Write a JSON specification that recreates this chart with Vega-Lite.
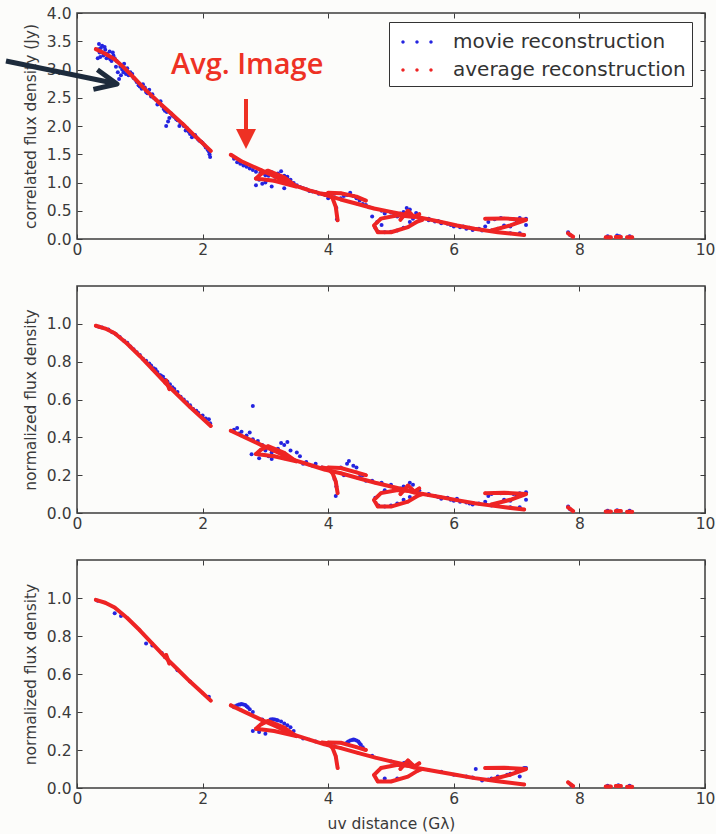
{
  "$schema": "https://vega.github.io/schema/vega-lite/v6.json",
  "background": "#fcfcfa",
  "padding": {"left": 2, "top": 5, "right": 0, "bottom": 2},
  "spacing": 25,
  "config": {
    "font": "DejaVu Sans",
    "view": {"stroke": "#3c3c3c", "strokeWidth": 1.5},
    "axis": {
      "grid": false,
      "domain": false,
      "labelFlush": false,
      "labelOverlap": false,
      "labelFont": "DejaVu Sans",
      "labelFontSize": 15.5,
      "labelColor": "#3a3a3a",
      "titleFont": "DejaVu Sans",
      "titleFontSize": 15.5,
      "titleFontWeight": "normal",
      "titleColor": "#3a3a3a",
      "tickColor": "#3c3c3c",
      "tickSize": -5,
      "tickWidth": 1
    },
    "axisX": {"labelPadding": 8, "titlePadding": 10},
    "axisY": {"labelPadding": 11, "titlePadding": 8}
  },
  "datasets": {
    "movie_top": [
      {"x":0.33,"y":3.2},{"x":0.35,"y":3.45},{"x":0.36,"y":3.3},{"x":0.38,"y":3.38},{"x":0.4,"y":3.42},{"x":0.42,"y":3.25},{"x":0.45,"y":3.35},{"x":0.48,"y":3.28},{"x":0.5,"y":3.22},{"x":0.52,"y":3.32},{"x":0.55,"y":3.15},{"x":0.58,"y":3.25},{"x":0.6,"y":3.2},{"x":0.62,"y":3.05},{"x":0.65,"y":2.95},{"x":0.67,"y":2.83},{"x":0.7,"y":2.9},{"x":0.72,"y":3.0},{"x":0.75,"y":3.1},{"x":0.78,"y":2.92},{"x":0.8,"y":3.02},{"x":0.85,"y":2.95},{"x":0.9,"y":2.85},{"x":0.95,"y":2.78},{"x":1.0,"y":2.7},{"x":1.05,"y":2.74},{"x":1.1,"y":2.6},{"x":1.15,"y":2.64},{"x":1.2,"y":2.56},{"x":1.25,"y":2.47},{"x":1.3,"y":2.4},{"x":1.35,"y":2.36},{"x":1.4,"y":2.27},{"x":1.42,"y":2.0},{"x":1.45,"y":2.08},{"x":1.5,"y":2.22},{"x":1.55,"y":2.16},{"x":1.6,"y":2.1},{"x":1.65,"y":2.05},{"x":1.7,"y":2.0},{"x":1.75,"y":1.96},{"x":1.8,"y":1.86},{"x":1.85,"y":1.84},{"x":1.9,"y":1.8},{"x":1.95,"y":1.74},{"x":2.0,"y":1.7},{"x":2.05,"y":1.62},{"x":2.1,"y":1.55},{"x":2.12,"y":1.45},
      {"x":0.34,"y":3.36},{"x":0.37,"y":3.22},{"x":0.41,"y":3.3},{"x":0.44,"y":3.4},{"x":0.47,"y":3.2},{"x":0.53,"y":3.18},{"x":0.57,"y":3.3},{"x":0.63,"y":3.15},{"x":0.69,"y":3.05},{"x":0.74,"y":2.95},{"x":0.82,"y":2.9},{"x":0.88,"y":2.92},{"x":0.93,"y":2.82},{"x":0.98,"y":2.72},{"x":1.03,"y":2.66},{"x":1.08,"y":2.68},{"x":1.12,"y":2.58},{"x":1.18,"y":2.52},{"x":1.22,"y":2.5},{"x":1.28,"y":2.38},{"x":1.33,"y":2.44},{"x":1.38,"y":2.3},{"x":1.43,"y":2.25},{"x":1.47,"y":2.14},{"x":1.52,"y":2.18},{"x":1.58,"y":2.12},{"x":1.63,"y":2.0},{"x":1.68,"y":2.04},{"x":1.73,"y":1.92},{"x":1.78,"y":1.9},{"x":1.83,"y":1.8},{"x":1.88,"y":1.84},{"x":1.93,"y":1.76},{"x":1.98,"y":1.72},{"x":2.03,"y":1.66},{"x":2.08,"y":1.58},{"x":2.11,"y":1.5},
      {"x":2.5,"y":1.42},{"x":2.55,"y":1.36},{"x":2.65,"y":1.3},{"x":2.75,"y":1.25},{"x":2.85,"y":1.19},{"x":2.9,"y":1.05},{"x":2.95,"y":0.98},{"x":3.0,"y":1.0},{"x":3.05,"y":1.12},{"x":3.1,"y":1.18},{"x":3.2,"y":1.16},{"x":3.25,"y":1.2},{"x":3.3,"y":1.12},{"x":3.35,"y":1.1},{"x":3.4,"y":1.05},{"x":3.45,"y":0.99},{"x":3.5,"y":0.95},{"x":2.85,"y":0.95},{"x":3.1,"y":0.93},{"x":3.3,"y":0.9},{"x":3.6,"y":0.9},{"x":3.7,"y":0.85},{"x":3.8,"y":0.83},{"x":3.9,"y":0.8},{"x":4.0,"y":0.72},{"x":4.05,"y":0.76},{"x":4.1,"y":0.8},{"x":4.13,"y":0.55},{"x":4.14,"y":0.35},{"x":4.2,"y":0.72},{"x":4.3,"y":0.78},{"x":4.35,"y":0.82},{"x":4.4,"y":0.76},{"x":4.5,"y":0.68},{"x":4.55,"y":0.62},{"x":4.6,"y":0.6},
      {"x":2.6,"y":1.33},{"x":2.7,"y":1.28},{"x":2.8,"y":1.22},{"x":2.92,"y":1.17},{"x":3.0,"y":1.13},{"x":3.15,"y":1.1},{"x":3.4,"y":0.98},{"x":3.55,"y":0.92},{"x":3.65,"y":0.88},{"x":3.75,"y":0.84},{"x":3.85,"y":0.8},{"x":3.95,"y":0.78},{"x":4.25,"y":0.76},{"x":4.45,"y":0.72},{"x":4.65,"y":0.56},{"x":4.85,"y":0.5},{"x":5.0,"y":0.47},{"x":5.15,"y":0.45},
      {"x":4.7,"y":0.4},{"x":4.75,"y":0.2},{"x":4.8,"y":0.13},{"x":4.9,"y":0.12},{"x":5.0,"y":0.13},{"x":5.1,"y":0.15},{"x":5.2,"y":0.2},{"x":5.3,"y":0.3},{"x":4.9,"y":0.45},{"x":5.05,"y":0.42},{"x":5.2,"y":0.48},{"x":5.25,"y":0.55},{"x":5.3,"y":0.52},{"x":5.4,"y":0.46},{"x":5.5,"y":0.36},{"x":4.85,"y":0.25},{"x":4.78,"y":0.3},{"x":5.1,"y":0.4},{"x":5.35,"y":0.36},
      {"x":5.6,"y":0.33},{"x":5.7,"y":0.31},{"x":5.8,"y":0.28},{"x":5.9,"y":0.27},{"x":6.0,"y":0.22},{"x":6.1,"y":0.21},{"x":6.2,"y":0.18},{"x":6.3,"y":0.16},{"x":6.4,"y":0.18},{"x":6.5,"y":0.22},{"x":6.55,"y":0.3},{"x":6.6,"y":0.15},{"x":6.7,"y":0.18},{"x":6.8,"y":0.24},{"x":6.9,"y":0.22},{"x":7.0,"y":0.3},{"x":7.1,"y":0.33},{"x":7.15,"y":0.36},{"x":7.15,"y":0.25},{"x":7.05,"y":0.1},{"x":6.9,"y":0.1},
      {"x":5.6,"y":0.36},{"x":5.75,"y":0.32},{"x":5.95,"y":0.25},{"x":6.15,"y":0.22},{"x":6.25,"y":0.2},{"x":6.45,"y":0.15},{"x":6.65,"y":0.35},{"x":6.75,"y":0.37},{"x":6.95,"y":0.35},{"x":7.05,"y":0.37},
      {"x":7.82,"y":0.12},{"x":7.85,"y":0.07},{"x":8.45,"y":0.05},{"x":8.6,"y":0.06},{"x":8.64,"y":0.05},{"x":8.8,"y":0.05}
    ],
    "avg_top": [
      {"track":"A","x":0.3,"y":3.36},{"track":"A","x":0.45,"y":3.28},{"track":"A","x":0.6,"y":3.18},{"track":"A","x":0.75,"y":3.03},{"track":"A","x":0.91,"y":2.85},{"track":"A","x":1.1,"y":2.63},{"track":"A","x":1.3,"y":2.42},{"track":"A","x":1.5,"y":2.22},{"track":"A","x":1.7,"y":2.02},{"track":"A","x":1.9,"y":1.8},{"track":"A","x":2.13,"y":1.56},
      {"track":"B1","x":2.45,"y":1.49},{"track":"B1","x":2.61,"y":1.38},{"track":"B1","x":2.93,"y":1.22},{"track":"B1","x":3.2,"y":1.08},{"track":"B1","x":3.46,"y":0.95},{"track":"B1","x":3.7,"y":0.86},{"track":"B1","x":3.99,"y":0.77},{"track":"B1","x":4.2,"y":0.7},{"track":"B1","x":4.47,"y":0.62},{"track":"B1","x":4.73,"y":0.54},{"track":"B1","x":5.0,"y":0.48},{"track":"B1","x":5.27,"y":0.42},{"track":"B1","x":5.55,"y":0.36},{"track":"B1","x":5.8,"y":0.3},{"track":"B1","x":6.05,"y":0.24},{"track":"B1","x":6.33,"y":0.18},{"track":"B1","x":6.7,"y":0.12},{"track":"B1","x":7.12,"y":0.07},
      {"track":"B2","x":2.85,"y":1.07},{"track":"B2","x":3.14,"y":1.03},{"track":"B2","x":3.49,"y":0.93},{"track":"B2","x":3.3,"y":1.09},{"track":"B2","x":3.04,"y":1.21},{"track":"B2","x":2.93,"y":1.15},{"track":"B2","x":2.85,"y":1.07},
      {"track":"B3","x":3.9,"y":0.8},{"track":"B3","x":4.0,"y":0.79},{"track":"B3","x":4.07,"y":0.72},{"track":"B3","x":4.12,"y":0.57},{"track":"B3","x":4.15,"y":0.33},
      {"track":"B3b","x":4.0,"y":0.82},{"track":"B3b","x":4.2,"y":0.81},{"track":"B3b","x":4.45,"y":0.75},{"track":"B3b","x":4.6,"y":0.68},
      {"track":"B4","x":5.45,"y":0.44},{"track":"B4","x":5.37,"y":0.39},{"track":"B4","x":5.11,"y":0.42},{"track":"B4","x":4.84,"y":0.36},{"track":"B4","x":4.73,"y":0.24},{"track":"B4","x":4.79,"y":0.12},{"track":"B4","x":5.0,"y":0.12},{"track":"B4","x":5.27,"y":0.21},{"track":"B4","x":5.42,"y":0.31},{"track":"B4","x":5.5,"y":0.34},
      {"track":"B4s","x":5.15,"y":0.34},{"track":"B4s","x":5.27,"y":0.5},{"track":"B4s","x":5.35,"y":0.41},
      {"track":"B5","x":6.5,"y":0.36},{"track":"B5","x":6.8,"y":0.365},{"track":"B5","x":7.15,"y":0.34},{"track":"B5","x":6.9,"y":0.24},{"track":"B5","x":6.6,"y":0.15},
      {"track":"C1","x":7.82,"y":0.1},{"track":"C1","x":7.9,"y":0.04},
      {"track":"C2","x":8.42,"y":0.03},{"track":"C2","x":8.5,"y":0.03},
      {"track":"C3","x":8.58,"y":0.035},{"track":"C3","x":8.66,"y":0.035},
      {"track":"C4","x":8.76,"y":0.03},{"track":"C4","x":8.84,"y":0.03}
    ],
    "movie_mid": [
      {"x":0.35,"y":0.985},{"x":0.5,"y":0.97},{"x":0.62,"y":0.945},{"x":0.75,"y":0.91},{"x":0.85,"y":0.88},{"x":0.95,"y":0.85},{"x":1.05,"y":0.815},{"x":1.15,"y":0.79},{"x":1.22,"y":0.765},{"x":1.28,"y":0.745},{"x":1.34,"y":0.725},{"x":1.4,"y":0.705},{"x":1.48,"y":0.68},{"x":1.55,"y":0.655},{"x":1.65,"y":0.615},{"x":1.75,"y":0.585},{"x":1.85,"y":0.55},{"x":1.93,"y":0.53},{"x":2.05,"y":0.5},{"x":2.1,"y":0.495},{"x":2.12,"y":0.475},
      {"x":0.4,"y":0.98},{"x":0.56,"y":0.955},{"x":0.68,"y":0.93},{"x":0.8,"y":0.9},{"x":0.9,"y":0.865},{"x":1.0,"y":0.835},{"x":1.1,"y":0.805},{"x":1.18,"y":0.78},{"x":1.25,"y":0.76},{"x":1.32,"y":0.73},{"x":1.37,"y":0.72},{"x":1.44,"y":0.695},{"x":1.52,"y":0.665},{"x":1.6,"y":0.64},{"x":1.7,"y":0.6},{"x":1.8,"y":0.57},{"x":1.9,"y":0.54},{"x":2.0,"y":0.515},
      {"x":2.5,"y":0.44},{"x":2.55,"y":0.45},{"x":2.62,"y":0.43},{"x":2.7,"y":0.41},{"x":2.75,"y":0.425},{"x":2.8,"y":0.39},{"x":2.8,"y":0.565},{"x":2.88,"y":0.38},{"x":2.95,"y":0.36},{"x":3.0,"y":0.33},{"x":3.05,"y":0.3},{"x":2.78,"y":0.31},{"x":2.9,"y":0.29},{"x":3.1,"y":0.32},{"x":3.2,"y":0.34},{"x":3.25,"y":0.37},{"x":3.3,"y":0.36},{"x":3.35,"y":0.375},{"x":3.4,"y":0.33},{"x":3.5,"y":0.32},{"x":3.55,"y":0.3},{"x":3.45,"y":0.28},{"x":3.3,"y":0.29},{"x":3.1,"y":0.285},{"x":3.65,"y":0.27},{"x":3.8,"y":0.26},{"x":3.9,"y":0.24},{"x":4.05,"y":0.22},{"x":4.1,"y":0.18},{"x":4.13,"y":0.14},{"x":4.12,"y":0.09},{"x":4.2,"y":0.24},{"x":4.3,"y":0.26},{"x":4.33,"y":0.275},{"x":4.4,"y":0.25},{"x":4.45,"y":0.24},{"x":4.55,"y":0.2},{"x":4.6,"y":0.17},
      {"x":2.58,"y":0.42},{"x":2.68,"y":0.4},{"x":3.6,"y":0.26},{"x":3.75,"y":0.25},{"x":4.0,"y":0.235},{"x":4.25,"y":0.2},{"x":4.5,"y":0.19},{"x":4.85,"y":0.16},{"x":5.0,"y":0.15},{"x":5.15,"y":0.13},
      {"x":4.7,"y":0.17},{"x":4.75,"y":0.08},{"x":4.8,"y":0.04},{"x":4.9,"y":0.035},{"x":5.0,"y":0.04},{"x":5.1,"y":0.05},{"x":5.2,"y":0.07},{"x":5.3,"y":0.085},{"x":4.9,"y":0.12},{"x":5.05,"y":0.13},{"x":5.2,"y":0.14},{"x":5.3,"y":0.16},{"x":5.35,"y":0.15},{"x":5.45,"y":0.12},{"x":5.5,"y":0.1},
      {"x":5.6,"y":0.095},{"x":5.7,"y":0.09},{"x":5.8,"y":0.075},{"x":5.9,"y":0.08},{"x":6.0,"y":0.065},{"x":6.1,"y":0.06},{"x":6.2,"y":0.055},{"x":6.3,"y":0.045},{"x":6.4,"y":0.05},{"x":6.5,"y":0.06},{"x":6.55,"y":0.09},{"x":6.6,"y":0.04},{"x":6.7,"y":0.05},{"x":6.8,"y":0.07},{"x":6.9,"y":0.065},{"x":7.0,"y":0.09},{"x":7.1,"y":0.1},{"x":7.15,"y":0.11},{"x":7.15,"y":0.07},{"x":7.05,"y":0.03},{"x":6.9,"y":0.03},
      {"x":5.6,"y":0.1},{"x":5.75,"y":0.085},{"x":5.95,"y":0.07},{"x":6.05,"y":0.075},{"x":6.25,"y":0.05},{"x":6.6,"y":0.1},{"x":6.75,"y":0.105},{"x":6.95,"y":0.1},{"x":7.05,"y":0.105},
      {"x":7.82,"y":0.035},{"x":7.85,"y":0.02},{"x":8.45,"y":0.012},{"x":8.6,"y":0.015},{"x":8.64,"y":0.01},{"x":8.8,"y":0.012}
    ],
    "movie_bot": [
      {"x":0.33,"y":0.985},{"x":0.6,"y":0.92},{"x":0.7,"y":0.905},{"x":1.1,"y":0.76},{"x":1.2,"y":0.75},{"x":1.35,"y":0.71},{"x":1.4,"y":0.69},{"x":1.6,"y":0.62},{"x":1.8,"y":0.56},{"x":2.1,"y":0.48},
      {"x":2.5,"y":0.425},{"x":2.55,"y":0.435},{"x":2.6,"y":0.44},{"x":2.65,"y":0.44},{"x":2.7,"y":0.43},{"x":2.75,"y":0.415},{"x":2.8,"y":0.4},{"x":2.95,"y":0.36},{"x":3.05,"y":0.35},{"x":3.1,"y":0.36},{"x":3.15,"y":0.36},{"x":3.2,"y":0.355},{"x":3.3,"y":0.34},{"x":3.4,"y":0.32},{"x":3.45,"y":0.3},{"x":2.8,"y":0.3},{"x":2.9,"y":0.295},{"x":3.0,"y":0.285},{"x":3.6,"y":0.26},{"x":3.8,"y":0.245},{"x":4.0,"y":0.225},{"x":4.1,"y":0.22},{"x":4.3,"y":0.24},{"x":4.35,"y":0.25},{"x":4.4,"y":0.255},{"x":4.45,"y":0.25},{"x":4.5,"y":0.235},{"x":4.55,"y":0.215},{"x":4.7,"y":0.17},
      {"x":2.52,"y":0.43},{"x":2.58,"y":0.44},{"x":2.62,"y":0.442},{"x":2.68,"y":0.437},{"x":2.72,"y":0.425},{"x":3.08,"y":0.36},{"x":3.12,"y":0.362},{"x":3.18,"y":0.358},{"x":3.25,"y":0.35},{"x":3.35,"y":0.33},{"x":4.32,"y":0.245},{"x":4.38,"y":0.253},{"x":4.42,"y":0.254},{"x":4.48,"y":0.245},{"x":4.52,"y":0.228},
      {"x":5.0,"y":0.14},{"x":5.2,"y":0.13},{"x":5.22,"y":0.133},{"x":5.25,"y":0.135},{"x":5.28,"y":0.133},{"x":5.3,"y":0.13},{"x":4.9,"y":0.05},{"x":5.1,"y":0.05},
      {"x":5.8,"y":0.085},{"x":6.0,"y":0.07},{"x":6.2,"y":0.06},{"x":6.3,"y":0.055},{"x":6.35,"y":0.1},{"x":6.45,"y":0.04},{"x":6.55,"y":0.045},{"x":6.6,"y":0.05},{"x":6.7,"y":0.06},{"x":6.85,"y":0.07},{"x":6.9,"y":0.075},{"x":7.0,"y":0.09},{"x":7.1,"y":0.1},{"x":7.12,"y":0.105},{"x":7.15,"y":0.105},{"x":7.05,"y":0.06},
      {"x":7.87,"y":0.015},{"x":8.45,"y":0.012},{"x":8.62,"y":0.015},{"x":8.8,"y":0.012}
    ],
    "avg_norm": [
      {"track":"A","x":0.3,"y":0.99},{"track":"A","x":0.45,"y":0.975},{"track":"A","x":0.6,"y":0.95},{"track":"A","x":0.8,"y":0.895},{"track":"A","x":1.0,"y":0.83},{"track":"A","x":1.2,"y":0.76},{"track":"A","x":1.4,"y":0.69},{"track":"A","x":1.6,"y":0.625},{"track":"A","x":1.8,"y":0.56},{"track":"A","x":2.0,"y":0.5},{"track":"A","x":2.13,"y":0.46},
      {"track":"A2","x":1.42,"y":0.7},{"track":"A2","x":1.47,"y":0.655},
      {"track":"B1","x":2.45,"y":0.435},{"track":"B1","x":2.61,"y":0.41},{"track":"B1","x":2.93,"y":0.36},{"track":"B1","x":3.2,"y":0.32},{"track":"B1","x":3.41,"y":0.285},{"track":"B1","x":3.7,"y":0.255},{"track":"B1","x":3.94,"y":0.23},{"track":"B1","x":4.2,"y":0.21},{"track":"B1","x":4.47,"y":0.185},{"track":"B1","x":4.75,"y":0.16},{"track":"B1","x":5.0,"y":0.14},{"track":"B1","x":5.2,"y":0.125},{"track":"B1","x":5.37,"y":0.108},{"track":"B1","x":5.6,"y":0.095},{"track":"B1","x":5.8,"y":0.083},{"track":"B1","x":6.05,"y":0.068},{"track":"B1","x":6.33,"y":0.052},{"track":"B1","x":6.7,"y":0.035},{"track":"B1","x":7.12,"y":0.018},
      {"track":"B2","x":2.85,"y":0.312},{"track":"B2","x":3.14,"y":0.3},{"track":"B2","x":3.49,"y":0.273},{"track":"B2","x":3.3,"y":0.318},{"track":"B2","x":3.04,"y":0.353},{"track":"B2","x":2.93,"y":0.335},{"track":"B2","x":2.85,"y":0.312},
      {"track":"B3","x":3.9,"y":0.24},{"track":"B3","x":4.0,"y":0.235},{"track":"B3","x":4.07,"y":0.21},{"track":"B3","x":4.12,"y":0.167},{"track":"B3","x":4.15,"y":0.105},
      {"track":"B3b","x":4.0,"y":0.24},{"track":"B3b","x":4.2,"y":0.238},{"track":"B3b","x":4.45,"y":0.215},{"track":"B3b","x":4.6,"y":0.2},
      {"track":"B4","x":5.45,"y":0.13},{"track":"B4","x":5.37,"y":0.113},{"track":"B4","x":5.11,"y":0.122},{"track":"B4","x":4.84,"y":0.105},{"track":"B4","x":4.73,"y":0.069},{"track":"B4","x":4.79,"y":0.034},{"track":"B4","x":5.0,"y":0.034},{"track":"B4","x":5.27,"y":0.06},{"track":"B4","x":5.42,"y":0.09},{"track":"B4","x":5.5,"y":0.1},
      {"track":"B4s","x":5.15,"y":0.1},{"track":"B4s","x":5.27,"y":0.145},{"track":"B4s","x":5.35,"y":0.12},
      {"track":"B5","x":6.5,"y":0.105},{"track":"B5","x":6.8,"y":0.107},{"track":"B5","x":7.15,"y":0.1},{"track":"B5","x":6.9,"y":0.07},{"track":"B5","x":6.6,"y":0.045},
      {"track":"C1","x":7.82,"y":0.03},{"track":"C1","x":7.9,"y":0.01},
      {"track":"C2","x":8.42,"y":0.008},{"track":"C2","x":8.5,"y":0.008},
      {"track":"C3","x":8.58,"y":0.01},{"track":"C3","x":8.66,"y":0.01},
      {"track":"C4","x":8.76,"y":0.006},{"track":"C4","x":8.84,"y":0.006}
    ],
    "pointer": [
      {"part":"shaft","x":-1.131,"y":3.15},{"part":"shaft","x":0.573,"y":2.761},
      {"part":"head","x":0.325,"y":2.995},{"part":"head","x":0.637,"y":2.743},{"part":"head","x":0.261,"y":2.648}
    ]
  },
  "vconcat": [
    {
      "width": 628,
      "height": 226,
      "layer": [
        {
          "data": {"name": "movie_top"},
          "mark": {"type": "point", "filled": true, "size": 16, "opacity": 1, "strokeWidth": 0},
          "encoding": {
            "x": {"field": "x", "type": "quantitative", "scale": {"domain": [0, 10], "nice": false}, "axis": {"values": [0, 2, 4, 6, 8, 10], "title": null}},
            "y": {"field": "y", "type": "quantitative", "scale": {"domain": [0, 4], "nice": false}, "axis": {"values": [0, 0.5, 1, 1.5, 2, 2.5, 3, 3.5, 4], "format": ".1f", "title": "correlated flux density (Jy)"}},
            "color": {
              "datum": "movie reconstruction",
              "scale": {"domain": ["movie reconstruction", "average reconstruction"], "range": ["#2424e0", "#ee2424"]},
              "legend": {
                "orient": "none", "legendX": 312, "legendY": 9, "title": null,
                "symbolType": "M-1.12,0A0.12,0.12,0,1,0,-0.88,0A0.12,0.12,0,1,0,-1.12,0ZM-0.12,0A0.12,0.12,0,1,0,0.12,0A0.12,0.12,0,1,0,-0.12,0ZM0.88,0A0.12,0.12,0,1,0,1.12,0A0.12,0.12,0,1,0,0.88,0Z",
                "symbolSize": 784, "symbolStrokeWidth": 0, "symbolOffset": 8,
                "labelFont": "DejaVu Sans", "labelFontSize": 20, "labelColor": "#333333", "labelOffset": 22, "labelLimit": 400,
                "padding": 6, "rowPadding": 4, "strokeColor": "#333333", "fillColor": "#ffffff", "cornerRadius": 0
              }
            }
          }
        },
        {
          "data": {"name": "avg_top"},
          "mark": {"type": "line", "strokeWidth": 4, "color": "#ee2424", "strokeCap": "round", "strokeJoin": "round"},
          "encoding": {
            "x": {"field": "x", "type": "quantitative", "scale": {"domain": [0, 10], "nice": false}, "axis": {"orient": "top", "values": [0, 2, 4, 6, 8, 10], "labels": false, "title": null}},
            "y": {"field": "y", "type": "quantitative", "scale": {"domain": [0, 4], "nice": false}, "axis": {"orient": "right", "values": [0, 0.5, 1, 1.5, 2, 2.5, 3, 3.5, 4], "labels": false, "title": null}},
            "detail": {"field": "track"},
            "order": {"value": null}
          }
        },
        {
          "data": {"name": "avg_top"},
          "mark": {"type": "point", "filled": true, "size": 12, "opacity": 1, "strokeWidth": 0},
          "encoding": {
            "x": {"field": "x", "type": "quantitative", "axis": null},
            "y": {"field": "y", "type": "quantitative", "axis": null},
            "color": {"datum": "average reconstruction"}
          }
        },
        {
          "data": {"name": "pointer"},
          "mark": {"type": "line", "strokeWidth": 5, "color": "#1d2b3c", "strokeCap": "butt", "strokeJoin": "round", "clip": false},
          "encoding": {
            "x": {"field": "x", "type": "quantitative", "axis": null},
            "y": {"field": "y", "type": "quantitative", "axis": null},
            "detail": {"field": "part"},
            "order": {"value": null}
          }
        },
        {
          "data": {"values": [{"x": 2.691, "y": 2.478, "y2": 1.93}]},
          "mark": {"type": "rule", "strokeWidth": 4, "color": "#ee3124"},
          "encoding": {
            "x": {"field": "x", "type": "quantitative", "axis": null},
            "y": {"field": "y", "type": "quantitative", "axis": null},
            "y2": {"field": "y2"}
          }
        },
        {
          "data": {"values": [{"x": 2.691, "y": 1.77}]},
          "mark": {"type": "point", "shape": "M-1,-1L1,-1L0,1Z", "size": 400, "filled": true, "opacity": 1, "color": "#ee3124", "strokeWidth": 0},
          "encoding": {
            "x": {"field": "x", "type": "quantitative", "axis": null},
            "y": {"field": "y", "type": "quantitative", "axis": null}
          }
        },
        {
          "data": {"values": [{"label": "Avg. Image", "x": 2.71, "y": 2.92}]},
          "mark": {"type": "text", "font": "Open Sans", "fontSize": 29, "fontWeight": 600, "color": "#ee3124", "align": "center", "baseline": "alphabetic"},
          "encoding": {
            "x": {"field": "x", "type": "quantitative", "axis": null},
            "y": {"field": "y", "type": "quantitative", "axis": null},
            "text": {"field": "label"}
          }
        }
      ],
      "resolve": {"axis": {"x": "independent", "y": "independent"}}
    },
    {
      "width": 628,
      "height": 227,
      "layer": [
        {
          "data": {"name": "movie_mid"},
          "mark": {"type": "point", "filled": true, "size": 16, "opacity": 1, "strokeWidth": 0},
          "encoding": {
            "x": {"field": "x", "type": "quantitative", "scale": {"domain": [0, 10], "nice": false}, "axis": {"values": [0, 2, 4, 6, 8, 10], "title": null}},
            "y": {"field": "y", "type": "quantitative", "scale": {"domain": [0, 1.2], "nice": false}, "axis": {"values": [0, 0.2, 0.4, 0.6, 0.8, 1.0], "format": ".1f", "title": "normalized flux density"}},
            "color": {"datum": "movie reconstruction", "scale": {"domain": ["movie reconstruction", "average reconstruction"], "range": ["#2424e0", "#ee2424"]}, "legend": null}
          }
        },
        {
          "data": {"name": "avg_norm"},
          "mark": {"type": "line", "strokeWidth": 4, "color": "#ee2424", "strokeCap": "round", "strokeJoin": "round"},
          "encoding": {
            "x": {"field": "x", "type": "quantitative", "scale": {"domain": [0, 10], "nice": false}, "axis": {"orient": "top", "values": [0, 2, 4, 6, 8, 10], "labels": false, "title": null}},
            "y": {"field": "y", "type": "quantitative", "scale": {"domain": [0, 1.2], "nice": false}, "axis": {"orient": "right", "values": [0, 0.2, 0.4, 0.6, 0.8, 1.0], "labels": false, "title": null}},
            "detail": {"field": "track"},
            "order": {"value": null}
          }
        },
        {
          "data": {"name": "avg_norm"},
          "mark": {"type": "point", "filled": true, "size": 12, "opacity": 1, "strokeWidth": 0},
          "encoding": {
            "x": {"field": "x", "type": "quantitative", "axis": null},
            "y": {"field": "y", "type": "quantitative", "axis": null},
            "color": {"datum": "average reconstruction", "legend": null}
          }
        }
      ],
      "resolve": {"axis": {"x": "independent", "y": "independent"}}
    },
    {
      "width": 628,
      "height": 228,
      "layer": [
        {
          "data": {"name": "movie_bot"},
          "mark": {"type": "point", "filled": true, "size": 16, "opacity": 1, "strokeWidth": 0},
          "encoding": {
            "x": {"field": "x", "type": "quantitative", "scale": {"domain": [0, 10], "nice": false}, "axis": {"values": [0, 2, 4, 6, 8, 10], "title": "uv distance (Gλ)"}},
            "y": {"field": "y", "type": "quantitative", "scale": {"domain": [0, 1.2], "nice": false}, "axis": {"values": [0, 0.2, 0.4, 0.6, 0.8, 1.0], "format": ".1f", "title": "normalized flux density"}},
            "color": {"datum": "movie reconstruction", "scale": {"domain": ["movie reconstruction", "average reconstruction"], "range": ["#2424e0", "#ee2424"]}, "legend": null}
          }
        },
        {
          "data": {"name": "avg_norm"},
          "mark": {"type": "line", "strokeWidth": 4, "color": "#ee2424", "strokeCap": "round", "strokeJoin": "round"},
          "encoding": {
            "x": {"field": "x", "type": "quantitative", "scale": {"domain": [0, 10], "nice": false}, "axis": {"orient": "top", "values": [0, 2, 4, 6, 8, 10], "labels": false, "title": null}},
            "y": {"field": "y", "type": "quantitative", "scale": {"domain": [0, 1.2], "nice": false}, "axis": {"orient": "right", "values": [0, 0.2, 0.4, 0.6, 0.8, 1.0], "labels": false, "title": null}},
            "detail": {"field": "track"},
            "order": {"value": null}
          }
        },
        {
          "data": {"name": "avg_norm"},
          "mark": {"type": "point", "filled": true, "size": 12, "opacity": 1, "strokeWidth": 0},
          "encoding": {
            "x": {"field": "x", "type": "quantitative", "axis": null},
            "y": {"field": "y", "type": "quantitative", "axis": null},
            "color": {"datum": "average reconstruction", "legend": null}
          }
        }
      ],
      "resolve": {"axis": {"x": "independent", "y": "independent"}}
    }
  ],
  "resolve": {"scale": {"color": "independent"}}
}
